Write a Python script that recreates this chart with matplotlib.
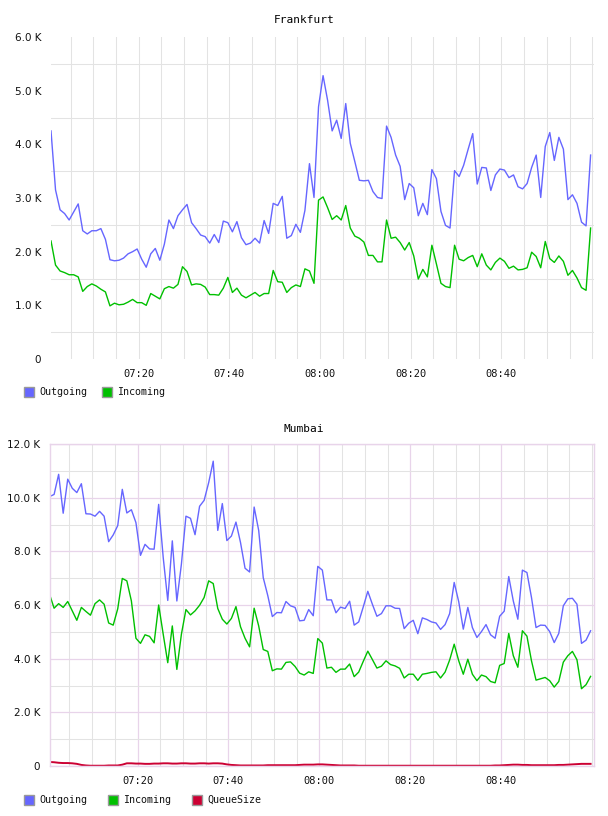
import numpy as np
import matplotlib
matplotlib.use("Agg")
import matplotlib.pyplot as plt
from matplotlib.patches import Rectangle

# one sample per minute, minutes after 07:00
minutes = np.arange(120) + 0.65

# Frankfurt (values in thousands)
fra_out = [4.25, 3.15, 2.78, 2.71, 2.59, 2.74, 2.89, 2.39, 2.33, 2.39,
           2.39, 2.43, 2.23, 1.85, 1.83, 1.84, 1.88, 1.96, 2.00, 2.05,
           1.86, 1.71, 1.96, 2.06, 1.84, 2.14, 2.59, 2.43, 2.67, 2.78,
           2.88, 2.54, 2.43, 2.31, 2.28, 2.16, 2.32, 2.17, 2.57, 2.54,
           2.37, 2.56, 2.26, 2.13, 2.16, 2.25, 2.16, 2.58, 2.34, 2.90,
           2.86, 3.03, 2.25, 2.30, 2.51, 2.36, 2.77, 3.64, 3.01, 4.70,
           5.28, 4.82, 4.25, 4.45, 4.11, 4.76, 4.02, 3.68, 3.33, 3.32,
           3.33, 3.12, 3.01, 2.99, 4.34, 4.13, 3.80, 3.59, 2.97, 3.27,
           3.19, 2.67, 2.90, 2.69, 3.53, 3.36, 2.75, 2.49, 2.44, 3.51,
           3.40, 3.61, 3.91, 4.20, 3.26, 3.57, 3.56, 3.14, 3.43, 3.54,
           3.52, 3.38, 3.43, 3.21, 3.17, 3.27, 3.57, 3.80, 3.01, 3.96,
           4.22, 3.70, 4.13, 3.91, 2.97, 3.06, 2.90, 2.55, 2.48, 3.80]
fra_in = [2.20, 1.75, 1.64, 1.61, 1.57, 1.57, 1.53, 1.26, 1.35, 1.40,
          1.36, 1.30, 1.25, 0.99, 1.04, 1.01, 1.02, 1.06, 1.11, 1.05,
          1.05, 1.00, 1.22, 1.17, 1.12, 1.31, 1.35, 1.32, 1.39, 1.72,
          1.63, 1.38, 1.40, 1.39, 1.34, 1.20, 1.20, 1.19, 1.32, 1.52,
          1.24, 1.32, 1.19, 1.14, 1.19, 1.24, 1.17, 1.22, 1.22, 1.65,
          1.44, 1.43, 1.24, 1.33, 1.38, 1.35, 1.68, 1.64, 1.41, 2.96,
          3.02, 2.82, 2.60, 2.67, 2.59, 2.86, 2.44, 2.29, 2.25, 2.18,
          1.93, 1.93, 1.81, 1.81, 2.59, 2.25, 2.27, 2.17, 2.03, 2.17,
          1.92, 1.49, 1.67, 1.53, 2.12, 1.77, 1.41, 1.35, 1.33, 2.12,
          1.86, 1.83, 1.89, 1.93, 1.72, 1.96, 1.75, 1.66, 1.80, 1.88,
          1.82, 1.69, 1.73, 1.66, 1.67, 1.70, 1.99, 1.91, 1.70, 2.19,
          1.87, 1.80, 1.92, 1.82, 1.56, 1.65, 1.51, 1.33, 1.28, 2.44]

# Mumbai (values in thousands)
mum_out = [10.04, 10.12, 10.87, 9.42, 10.69, 10.35, 10.19, 10.52, 9.40, 9.39,
           9.31, 9.49, 9.31, 8.36, 8.61, 8.96, 10.31, 9.43, 9.55, 9.07,
           7.85, 8.26, 8.09, 8.08, 9.75, 7.77, 6.17, 8.39, 6.15, 7.52,
           9.31, 9.23, 8.62, 9.68, 9.90, 10.56, 11.36, 8.78, 9.78, 8.40,
           8.57, 9.09, 8.33, 7.37, 7.23, 9.65, 8.78, 7.02, 6.35, 5.57,
           5.72, 5.71, 6.13, 5.97, 5.91, 5.41, 5.43, 5.83, 5.60, 7.44,
           7.30, 6.19, 6.19, 5.71, 5.92, 5.87, 6.14, 5.25, 5.37, 5.93,
           6.51, 6.03, 5.58, 5.68, 5.97, 5.97, 5.88, 5.87, 5.12, 5.32,
           5.43, 4.93, 5.52, 5.46, 5.37, 5.33, 5.09, 5.27, 5.68, 6.84,
           6.12, 5.10, 5.91, 5.16, 4.79, 5.01, 5.27, 4.89, 4.76, 5.58,
           5.77, 7.06, 6.15, 5.47, 7.30, 7.21, 6.28, 5.16, 5.25, 5.24,
           5.01, 4.60, 4.94, 5.97, 6.23, 6.25, 6.03, 4.57, 4.69, 5.04]
mum_in = [6.40, 5.88, 6.05, 5.91, 6.13, 5.78, 5.43, 5.91, 5.76, 5.62,
          6.05, 6.19, 6.03, 5.33, 5.25, 5.86, 6.99, 6.90, 6.15, 4.76,
          4.57, 4.89, 4.83, 4.59, 6.00, 4.91, 3.85, 5.22, 3.60, 4.91,
          5.83, 5.63, 5.78, 5.99, 6.28, 6.90, 6.80, 5.87, 5.47, 5.29,
          5.50, 5.94, 5.19, 4.76, 4.44, 5.88, 5.22, 4.34, 4.27, 3.55,
          3.62, 3.61, 3.86, 3.88, 3.71, 3.46, 3.39, 3.51, 3.45, 4.75,
          4.58, 3.65, 3.68, 3.49, 3.61, 3.61, 3.80, 3.33, 3.50, 3.90,
          4.28, 3.97, 3.65, 3.72, 3.92, 3.78, 3.73, 3.64, 3.28, 3.42,
          3.42, 3.19, 3.42, 3.45, 3.49, 3.51, 3.28, 3.50, 3.95, 4.54,
          3.92, 3.42, 3.98, 3.42, 3.18, 3.39, 3.33, 3.15, 3.10, 3.75,
          3.82, 4.94, 4.11, 3.68, 5.04, 4.84, 3.92, 3.20, 3.25, 3.30,
          3.18, 2.94, 3.15, 3.87, 4.11, 4.27, 3.96, 2.88, 3.03, 3.34]
mum_queue = [0.15, 0.14, 0.12, 0.11, 0.11, 0.10, 0.08, 0.04, 0.02, 0.01,
             0.01, 0.01, 0.01, 0.02, 0.02, 0.02, 0.05, 0.10, 0.10, 0.09,
             0.09, 0.08, 0.08, 0.09, 0.09, 0.10, 0.10, 0.09, 0.09, 0.10,
             0.10, 0.09, 0.09, 0.10, 0.10, 0.09, 0.10, 0.10, 0.09, 0.06,
             0.04, 0.03, 0.02, 0.02, 0.02, 0.02, 0.02, 0.02, 0.03, 0.03,
             0.03, 0.03, 0.03, 0.03, 0.03, 0.04, 0.05, 0.05, 0.05, 0.06,
             0.06, 0.05, 0.04, 0.03, 0.02, 0.02, 0.02, 0.02, 0.01, 0.01,
             0.01, 0.01, 0.01, 0.01, 0.01, 0.01, 0.01, 0.01, 0.01, 0.01,
             0.01, 0.01, 0.01, 0.01, 0.01, 0.01, 0.01, 0.01, 0.01, 0.01,
             0.01, 0.01, 0.01, 0.01, 0.01, 0.01, 0.01, 0.01, 0.02, 0.02,
             0.03, 0.04, 0.05, 0.05, 0.04, 0.04, 0.03, 0.03, 0.03, 0.03,
             0.03, 0.03, 0.04, 0.04, 0.05, 0.06, 0.07, 0.08, 0.08, 0.08]

time_ticks = [20, 40, 60, 80, 100]
time_labels = ['07:20', '07:40', '08:00', '08:20', '08:40']

C_OUT = '#6666ff'
C_IN = '#00c000'
C_QUEUE = '#cc0033'
GRID = '#e3e3e3'
PURPLE = '#e8d4ea'

fig = plt.figure(figsize=(6.08, 8.16), dpi=100)
W, H = 608.0, 816.0


def k_label(v):
    return '0' if v == 0 else '%.1f K' % v


def setup_axes(ax, ymax, ystep):
    ax.set_ylim(0, ymax)
    yt = np.arange(0, ymax + 0.01, ystep)
    ax.set_yticks(yt)
    ax.set_yticklabels([k_label(v) for v in yt])
    ax.set_xticks(time_ticks)
    ax.set_xticklabels(time_labels, family='DejaVu Sans Mono')
    ax.set_xticks(np.arange(5, 121, 5), minor=True)
    ax.tick_params(which='both', length=0, labelsize=7.5, colors='#111111')
    ax.tick_params(axis='y', pad=7)
    ax.tick_params(axis='x', pad=7)


# ---- Frankfurt ----
ax1 = fig.add_axes([51 / W, 1 - 359 / H, 543 / W, 322 / H])
ax1.set_xlim(0.65, 120.4)
setup_axes(ax1, 6, 1)
ax1.set_yticks(np.arange(0.5, 6, 1.0), minor=True)
ax1.grid(False)
ax1.xaxis.grid(True, which='both', color=GRID, lw=0.75)
ax1.yaxis.grid(True, which='minor', color=GRID, lw=0.75)
ax1.set_axisbelow(True)
for s in ax1.spines.values():
    s.set_visible(False)
ax1.plot(minutes, fra_out, color=C_OUT, lw=1.0)
ax1.plot(minutes, fra_in, color=C_IN, lw=1.0)
fig.text(0.5, 1 - 20 / H, 'Frankfurt', ha='center', va='center',
         family='DejaVu Sans Mono', fontsize=8)

# ---- Mumbai ----
ax2 = fig.add_axes([50 / W, 1 - 766 / H, 544 / W, 322 / H])
ax2.set_xlim(0.75, 120.4)
setup_axes(ax2, 12, 2)
ax2.set_yticks(np.arange(1, 12, 2), minor=True)
ax2.grid(True, which='minor', color=GRID, lw=0.75)
ax2.grid(True, which='major', color=PURPLE, lw=0.9)
ax2.set_axisbelow(True)
for s in ax2.spines.values():
    s.set_color(PURPLE)
    s.set_linewidth(1.0)
ax2.plot(minutes, mum_out, color=C_OUT, lw=1.0)
ax2.plot(minutes, mum_in, color=C_IN, lw=1.0)
ax2.plot(minutes, mum_queue, color=C_QUEUE, lw=1.4)
fig.text(0.5, 1 - 429 / H, 'Mumbai', ha='center', va='center',
         family='DejaVu Sans Mono', fontsize=8)


# ---- legends ----
def legend_item(x, y, color, label):
    fig.patches.append(Rectangle((x / W, 1 - (y + 5) / H), 10 / W, 10 / H,
                                 transform=fig.transFigure, facecolor=color,
                                 edgecolor='#999999', lw=1))
    fig.text((x + 15) / W, 1 - y / H, label, ha='left', va='center',
             family='DejaVu Sans Mono', fontsize=7.2, color='#111111')


legend_item(24, 392, C_OUT, 'Outgoing')
legend_item(102, 392, C_IN, 'Incoming')
legend_item(24, 800, C_OUT, 'Outgoing')
legend_item(108, 800, C_IN, 'Incoming')
legend_item(192, 800, C_QUEUE, 'QueueSize')

fig.savefig('out.png', dpi=100)
